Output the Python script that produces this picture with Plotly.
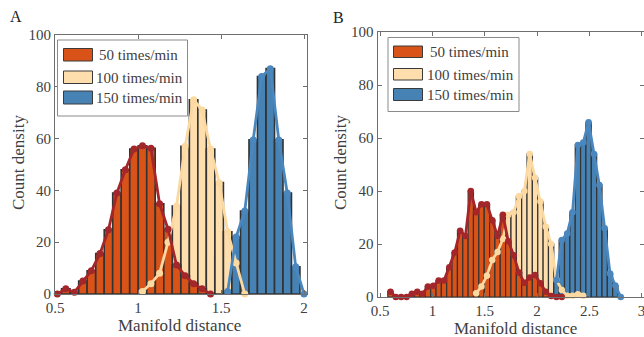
import plotly.graph_objects as go

# ---------------- data ----------------
# Panel A bin centres
a_centers = [0.514, 0.565, 0.617, 0.668, 0.719, 0.771, 0.822, 0.873, 0.924, 0.976,
             1.027, 1.078, 1.130, 1.181, 1.232, 1.284, 1.335, 1.386, 1.437, 1.489,
             1.540, 1.591, 1.643, 1.694, 1.745, 1.797, 1.848, 1.899, 1.950, 2.000]
a50_x = a_centers[0:19]
a50_y = [0, 2, 0.7, 5, 9, 15.6, 24.8, 39, 48, 56, 57.2, 56.3, 34.8, 25, 11.2, 7, 4, 2, 0]
a100_x = a_centers[10:23]
a100_y = [1, 4, 8, 20, 34, 57, 75, 71, 56, 43, 24, 12, 0]
a150_x = a_centers[20:30]
a150_y = [1, 22, 32, 59.5, 84, 87, 59.5, 39, 10.5, 0]

# Panel B bin centres
b_centers = [0.599, 0.650, 0.701, 0.753, 0.804, 0.855, 0.906, 0.957, 1.009, 1.060,
             1.111, 1.162, 1.213, 1.265, 1.316, 1.367, 1.418, 1.469, 1.521, 1.572,
             1.623, 1.674, 1.725, 1.777, 1.828, 1.879, 1.930, 1.981, 2.033, 2.084,
             2.135, 2.186, 2.237, 2.289, 2.340, 2.391, 2.442, 2.493, 2.545, 2.596,
             2.647, 2.698, 2.749, 2.801]
b50_x = b_centers[0:33]
b50_y = [2, 0, 0, 0, 1.2, 2, 1.2, 4, 4.2, 6.2, 6.2, 11.2, 16.8, 25, 23, 40, 32, 35, 35,
         29, 23, 31, 21, 15.8, 9.2, 5.4, 7.4, 8.3, 5.2, 2, 0.4, 0, 0]
b100_x = b_centers[16:37]
b100_y = [1.4, 4, 8, 14, 17, 22, 31, 32, 38, 40, 54, 45, 36, 26.5, 20, 6.5, 2.6, 0.5, 0.5, 1, 0.5]
b150_x = b_centers[31:44]
b150_y = [6.4, 21.5, 24, 32, 57.4, 58.3, 65.9, 54, 42.3, 25.9, 8.9, 4.3, 0]

series_names = ["50 times/min", "100 times/min", "150 times/min"]
x_ticks_a = [0.5, 1, 1.5, 2]
x_ticks_b = [0.5, 1, 1.5, 2, 2.5, 3]
y_ticks = [0, 20, 40, 60, 80, 100]

# ---------------- styles ----------------
W, H = 644, 337
FONT = "'Liberation Serif', 'Times New Roman', serif"
TXT = "#404040"
AX = "#6f6f6f"
C_OR, C_OR_LINE = "#D95319", "#A3262A"
C_BE, C_BE_LINE = "#FFDEAD", "#FDD9A2"
C_BL, C_BL_LINE = "#4682B4", "#4A87BF"

def px(x):
    return x / W

def py(y):
    return 1 - y / H

fig = go.Figure()

def add_panel(xa, ya, s50, s100, s150, edge_w, msize):
    bw = (s50[0][1] - s50[0][0])
    for (xs, ys), col in [(s100, C_BE), (s50, C_OR), (s150, C_BL)]:
        fig.add_trace(go.Bar(x=xs, y=ys, width=bw, marker=dict(color=col,
                             line=dict(color="#333333", width=edge_w)),
                             xaxis=xa, yaxis=ya, showlegend=False, hoverinfo="skip"))
    for (xs, ys), col in [(s100, C_BE_LINE), (s50, C_OR_LINE), (s150, C_BL_LINE)]:
        fig.add_trace(go.Scatter(x=xs, y=ys, mode="lines+markers",
                                 line=dict(color=col, width=2.8),
                                 marker=dict(color=col, size=msize),
                                 cliponaxis=False, xaxis=xa, yaxis=ya,
                                 showlegend=False, hoverinfo="skip"))

add_panel("x", "y", (a50_x, a50_y), (a100_x, a100_y), (a150_x, a150_y), 1.6, 7)
add_panel("x2", "y2", (b50_x, b50_y), (b100_x, b100_y), (b150_x, b150_y), 1.2, 6.5)

axis_common = dict(showgrid=False, zeroline=False, showline=True, linecolor=AX,
                   linewidth=1, mirror="ticks", ticks="inside", ticklen=4,
                   tickcolor=AX, automargin=False,
                   tickfont=dict(family=FONT, size=15, color=TXT))

fig.update_layout(
    width=W, height=H, margin=dict(l=0, r=0, t=0, b=0, autoexpand=False),
    paper_bgcolor="white", plot_bgcolor="white", barmode="overlay",
    xaxis=dict(domain=[px(55), px(306.5)], range=[0.5, 2.015], tickvals=x_ticks_a,
               anchor="y", **axis_common),
    yaxis=dict(domain=[py(294), py(35)], range=[0, 100], tickvals=y_ticks,
               anchor="x", **axis_common),
    xaxis2=dict(domain=[px(377.5), 1.0], range=[0.475, 3.023], tickvals=x_ticks_b,
                anchor="y2", ticklabeloverflow="allow", **axis_common),
    yaxis2=dict(domain=[py(297), py(32)], range=[0, 100], tickvals=y_ticks,
                anchor="x2", **axis_common),
)

shapes = []
annots = []

def legend(box, sw_x, sw_rows, txt_pos):
    x0, y0, x1, y1 = box
    shapes.append(dict(type="rect", xref="paper", yref="paper", x0=px(x0), x1=px(x1),
                       y0=py(y1), y1=py(y0), line=dict(color="#8a8a8a", width=1),
                       fillcolor="white", layer="above"))
    for (ya, yb), col in zip(sw_rows, [C_OR, C_BE, C_BL]):
        shapes.append(dict(type="rect", xref="paper", yref="paper", x0=px(sw_x[0]),
                           x1=px(sw_x[1]), y0=py(yb), y1=py(ya), fillcolor=col,
                           line=dict(color="#3a3a3a", width=1), layer="above"))
    for (tx, ty), name in zip(txt_pos, series_names):
        annots.append(dict(text=name, xref="paper", yref="paper", x=px(tx), y=py(ty),
                           xanchor="left", yanchor="middle", showarrow=False,
                           font=dict(family=FONT, size=15, color=TXT)))

legend((57.5, 40, 187.5, 116), (63.5, 92.5), [(48.5, 61), (71, 83.5), (91, 104)],
       [(96.5, 55), (94, 77.5), (94, 98.5)])
legend((388, 37.5, 519, 111.5), (393.5, 422.5), [(46, 57.5), (68.5, 80), (88.5, 100.5)],
       [(427.5, 52), (425, 74.5), (425, 95)])

for t, x, y in [("A", 16, 17), ("B", 338, 18)]:
    annots.append(dict(text=t, xref="paper", yref="paper", x=px(x), y=py(y),
                       xanchor="center", yanchor="middle", showarrow=False,
                       font=dict(family=FONT, size=16, color="#222")))
for x, y in [(180, 325), (515, 328)]:
    annots.append(dict(text="Manifold distance", xref="paper", yref="paper", x=px(x),
                       y=py(y), xanchor="center", yanchor="middle", showarrow=False,
                       font=dict(family=FONT, size=17, color=TXT)))
for x, y in [(19, 163), (341, 163)]:
    annots.append(dict(text="Count density", xref="paper", yref="paper", x=px(x),
                       y=py(y), xanchor="center", yanchor="middle", showarrow=False,
                       textangle=-90, font=dict(family=FONT, size=17, color=TXT)))

fig.update_layout(shapes=shapes, annotations=annots)
fig.write_html("out.html")
